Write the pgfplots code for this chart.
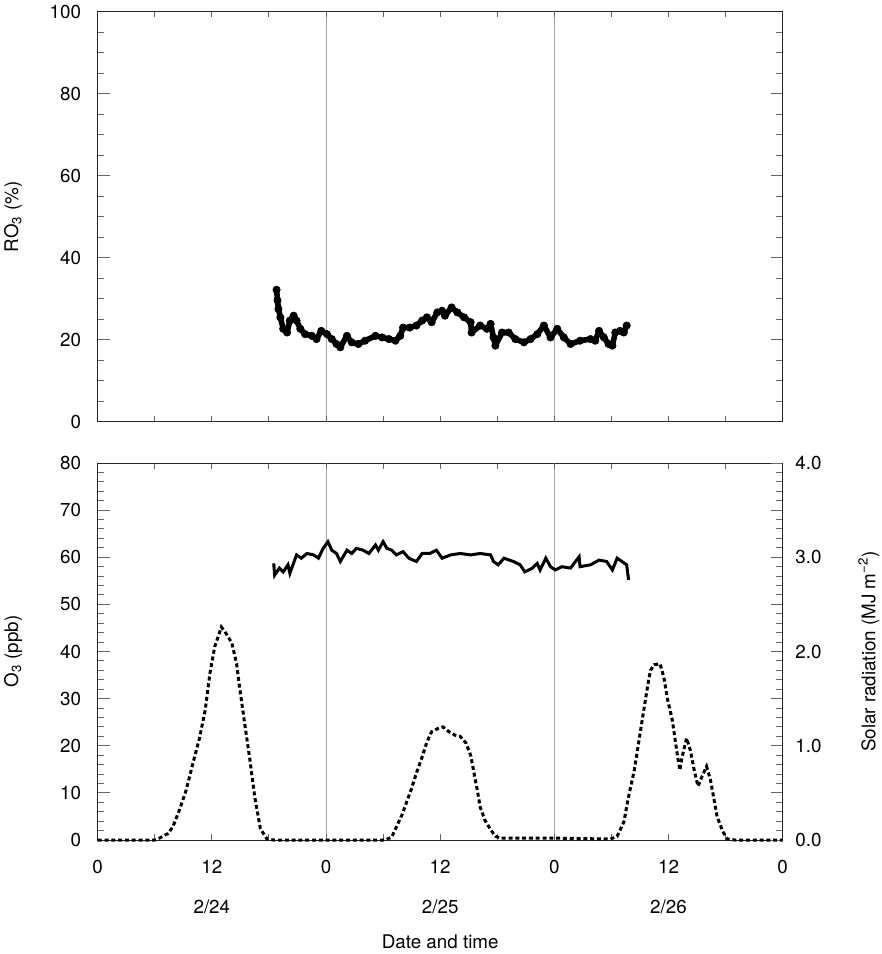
\documentclass[border=0pt]{standalone}
\usepackage{fontspec}
\setmainfont{TeX Gyre Heros}
\usepackage{pgfplots}
\usepackage{pgfplotstable}
\pgfplotsset{compat=1.18}

\pgfplotstableread{
h v
18.8 32.2
18.9 29.6
19.0 27.5
19.2 25.5
19.5 22.7
19.9 21.8
20.2 24.7
20.6 25.9
20.9 24.7
21.3 22.7
21.8 21.4
22.5 21.0
23.0 20.2
23.5 22.2
24.1 21.4
24.6 20.2
25.1 19.0
25.5 18.2
26.2 21.0
26.7 19.4
27.4 19.0
28.1 19.8
29.2 21.0
29.9 20.6
30.6 20.2
31.3 19.8
31.8 21.0
32.1 23.0
32.8 23.0
33.5 23.5
34.1 24.7
34.6 25.5
35.1 24.3
35.7 26.7
36.2 27.1
36.5 25.9
37.2 27.9
37.8 26.7
38.5 25.5
39.2 24.3
39.3 21.8
40.2 23.5
40.9 22.7
41.3 23.9
41.6 20.6
41.8 18.6
42.5 21.8
43.2 21.8
43.9 20.2
44.8 19.4
45.5 20.2
46.2 21.4
46.9 23.5
47.6 20.6
48.3 22.7
49.0 20.6
49.7 19.0
50.7 19.8
51.8 20.2
52.3 19.8
52.7 22.2
53.2 20.6
53.7 19.0
54.1 18.6
54.4 21.8
54.9 22.2
55.3 21.8
55.6 23.5
}\rothree

\pgfplotstableread{
h v
18.5 58.7
18.6 56.2
19.1 57.7
19.5 56.9
20.0 58.4
20.2 56.6
20.9 60.5
21.4 59.8
22.0 60.8
22.7 60.5
23.2 59.8
23.7 61.9
24.2 63.3
24.6 61.5
25.1 60.8
25.5 59.1
26.2 61.5
26.7 60.8
27.2 61.9
27.9 61.5
28.5 60.8
29.2 62.6
29.5 61.5
30.0 63.3
30.4 61.9
30.9 61.5
31.4 60.5
32.1 61.2
32.7 59.8
33.5 59.1
34.1 60.8
34.9 60.8
35.6 61.5
36.2 59.8
37.1 60.5
38.1 60.8
39.2 60.5
40.2 60.8
41.3 60.5
41.6 59.1
42.1 58.4
42.7 59.8
43.7 59.1
44.4 58.4
44.9 56.9
45.7 57.7
46.2 58.7
46.5 57.3
47.1 59.8
47.6 58.0
48.1 57.3
48.8 58.0
49.7 57.7
50.6 60.1
50.7 58.0
51.8 58.4
52.7 59.4
53.5 59.1
54.1 57.3
54.6 59.8
55.1 59.1
55.6 58.4
55.8 55.2
}\othree

\pgfplotstableread{
h v
0 0
6.0 0
6.5 0.02
7.4 0.07
7.9 0.14
8.6 0.32
9.3 0.53
10.0 0.81
10.7 1.08
11.3 1.38
11.8 1.77
12.3 2.05
13.0 2.26
13.5 2.19
14.1 2.09
14.6 1.87
14.9 1.63
15.5 1.20
16.0 0.85
16.5 0.46
17.1 0.12
17.8 0.01
18.5 0
30.2 0
30.9 0.03
31.4 0.14
32.0 0.27
32.5 0.41
33.0 0.55
33.5 0.71
34.1 0.88
34.6 1.04
35.1 1.15
35.7 1.18
36.3 1.20
36.9 1.15
37.6 1.11
38.1 1.10
38.7 1.03
39.2 0.90
39.5 0.74
39.9 0.53
40.2 0.35
40.7 0.21
41.3 0.11
41.8 0.04
42.3 0.02
48.0 0.02
53.9 0.01
54.6 0.04
55.3 0.19
55.8 0.46
56.4 0.74
56.9 1.06
57.4 1.38
57.8 1.63
58.1 1.80
58.5 1.86
59.1 1.87
59.5 1.73
59.9 1.49
60.4 1.27
60.9 0.92
61.2 0.74
61.4 0.87
61.9 1.08
62.3 0.95
62.7 0.74
63.1 0.57
63.5 0.67
64.0 0.78
64.4 0.64
64.8 0.42
65.1 0.25
65.7 0.09
66.2 0.01
67.0 0
72.0 0
}\solar

\begin{document}
\fontsize{9.4}{11.3}\selectfont
\begin{tikzpicture}
\pgfplotsset{
  common/.style={
    scale only axis,
    width=342.5pt,
    xmin=0, xmax=72,
    axis line style={black!85, line width=0.5pt},
    tick style={black!60, line width=0.5pt},
    tick align=inside,
    major tick length=6pt,
    minor tick length=3.2pt,
    xtick={0,6,...,72},
    xtick style={/pgfplots/major tick length=3pt},
    /pgf/number format/assume math mode=true,
    ticklabel style={font=\fontsize{9.4}{11.3}\selectfont},
    label style={font=\fontsize{9.4}{11.3}\selectfont},
    xticklabel style={yshift=-7pt, align=center},
    yticklabel style={xshift=-5pt},
    extra x ticks={24,48},
    extra x tick labels={},
    extra x tick style={grid=major, major grid style={black!35, line width=0.5pt}, /pgfplots/major tick length=0pt},
    every axis y label/.style={at={(axis description cs:-0.1235,0.5)}, rotate=90, anchor=center},
  }
}
\path[use as bounding box] (-48.85pt,-57pt) rectangle (392.15pt,420pt);

% top panel
\begin{axis}[common,
  at={(0pt,209pt)}, anchor=south west,
  height=205.25pt,
  ymin=0, ymax=100,
  ytick={0,20,...,100},
  minor y tick num=3,
  xticklabels={},
  ylabel={RO\textsubscript{3} (\%)},
]
\addplot[black, line width=2.8pt, line join=round, mark=*, mark size=1.85pt, mark options={line width=0.3pt}] table[x=h,y=v] {\rothree};
\end{axis}

% bottom panel, left axis
\begin{axis}[common,
  at={(0pt,0pt)}, anchor=south west,
  height=188.5pt,
  ymin=0, ymax=80,
  ytick={0,10,...,80},
  minor y tick num=4,
  ytick pos=left,
  xticklabels={0,,{12\\[8.7pt]2/24},,0,,{12\\[8.7pt]2/25},,0,,{12\\[8.7pt]2/26},,0},
  ylabel={O\textsubscript{3} (ppb)},
  xlabel={Date and time},
  every axis x label/.style={at={(axis description cs:0.5,-0.2706)}, anchor=center},
]
\addplot[black, line width=1.5pt] table[x=h,y=v] {\othree};
\end{axis}

% bottom panel, right axis
\begin{axis}[
  scale only axis,
  width=342.5pt,
  height=188.5pt,
  at={(0pt,0pt)}, anchor=south west,
  xmin=0, xmax=72,
  ymin=0, ymax=4,
  hide x axis,
  axis y line*=right,
  axis line style={black!85, line width=0.5pt},
  tick style={black!60, line width=0.5pt},
  tick align=inside,
  major tick length=6pt,
  minor tick length=3.2pt,
  ytick={0,0.5,...,4},
  yticklabels={0.0,,1.0,,2.0,,3.0,,4.0},
  minor y tick num=4,
  ticklabel style={font=\fontsize{9.4}{11.3}\selectfont},
  yticklabel style={xshift=3pt},
  clip=false,
  ylabel={Solar radiation (MJ m\textsuperscript{−2})},
  every axis y label/.style={at={(axis description cs:1.1257,0.5)}, rotate=90, anchor=center, font=\fontsize{9.4}{11.3}\selectfont},
]
\addplot[black, line width=1.5pt, dash pattern=on 2pt off 1.4pt] table[x=h,y=v] {\solar};
\end{axis}
\end{tikzpicture}
\end{document}
